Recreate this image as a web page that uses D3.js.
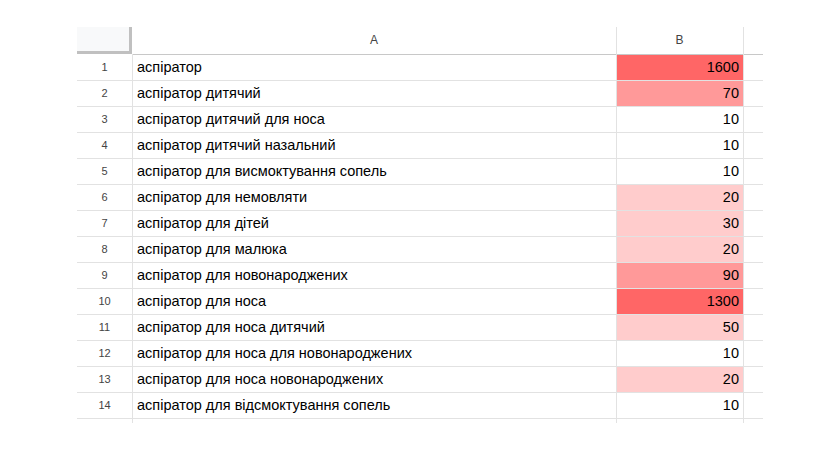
<!DOCTYPE html><html><head><meta charset="utf-8"><script src="https://cdn.jsdelivr.net/npm/d3@7"></script>
<style>body{margin:0;background:#fff}</style></head><body><svg id="c" width="824" height="450"></svg>
<script>
const keywords=["аспіратор","аспіратор дитячий","аспіратор дитячий для носа","аспіратор дитячий назальний","аспіратор для висмоктування сопель","аспіратор для немовляти","аспіратор для дітей","аспіратор для малюка","аспіратор для новонароджених","аспіратор для носа","аспіратор для носа дитячий","аспіратор для носа для новонароджених","аспіратор для носа новонароджених","аспіратор для відсмоктування сопель"];
const volumes=[1600,70,10,10,10,20,30,20,90,1300,50,10,20,10];
const columns=["A","B"];
(function(){
const svg=d3.select("#c");
const font="Arial, 'Liberation Sans', sans-serif";
const y0=54,rowH=26,nx0=77,ax0=132,bx0=616,bx1=743,xEnd=763;
const y=d3.scaleBand().domain(d3.range(keywords.length)).range([y0,y0+rowH*keywords.length]).padding(0);
const color=d3.scaleThreshold().domain([15,60,500]).range(["#ffffff","#ffcccc","#ff9999","#ff6666"]);
svg.selectAll("rect.b").data(volumes).join("rect").attr("x",bx0).attr("y",(d,i)=>y(i)).attr("width",bx1-bx0).attr("height",rowH).attr("fill",d=>color(d));
svg.append("rect").attr("x",nx0).attr("y",27).attr("width",ax0-nx0).attr("height",y0-27).attr("fill","#f8f9fa");
svg.append("line").attr("x1",nx0).attr("x2",ax0-1).attr("y1",y0-1.5).attr("y2",y0-1.5).attr("stroke","#c0c0c0").attr("stroke-width",3);
svg.append("line").attr("x1",ax0-1.5).attr("x2",ax0-1.5).attr("y1",27).attr("y2",y0).attr("stroke","#c0c0c0").attr("stroke-width",3);
svg.append("line").attr("x1",ax0).attr("x2",xEnd).attr("y1",y0+0.5).attr("y2",y0+0.5).attr("stroke","#c8c8c8");
svg.selectAll("line.h").data(d3.range(1,keywords.length+1)).join("line").attr("x1",nx0).attr("x2",xEnd).attr("y1",i=>y0+i*rowH+0.5).attr("y2",i=>y0+i*rowH+0.5).attr("stroke","#e2e2e2");
[ax0,bx0,bx1].forEach(x=>svg.append("line").attr("x1",x+0.5).attr("x2",x+0.5).attr("y1",x===ax0?y0:27).attr("y2",y0+rowH*keywords.length+5).attr("stroke","#e2e2e2"));
svg.selectAll("text.hd").data(columns).join("text").attr("x",(d,i)=>i?(bx0+bx1)/2:(ax0+bx0)/2).attr("y",44).attr("text-anchor","middle").attr("font-family",font).attr("font-size",12).attr("fill","#444").text(d=>d);
svg.selectAll("text.n").data(keywords).join("text").attr("x",(nx0+ax0)/2).attr("y",(d,i)=>y(i)+rowH/2+4).attr("text-anchor","middle").attr("font-family",font).attr("font-size",11).attr("fill","#444").text((d,i)=>i+1);
svg.selectAll("text.k").data(keywords).join("text").attr("x",ax0+5).attr("y",(d,i)=>y(i)+rowH/2+5).attr("font-family",font).attr("font-size",14.5).attr("fill","#000").text(d=>d);
svg.selectAll("text.v").data(volumes).join("text").attr("x",bx1-4).attr("y",(d,i)=>y(i)+rowH/2+5).attr("text-anchor","end").attr("font-family",font).attr("font-size",14.5).attr("fill","#000").text(d=>d);
})();
</script></body></html>
